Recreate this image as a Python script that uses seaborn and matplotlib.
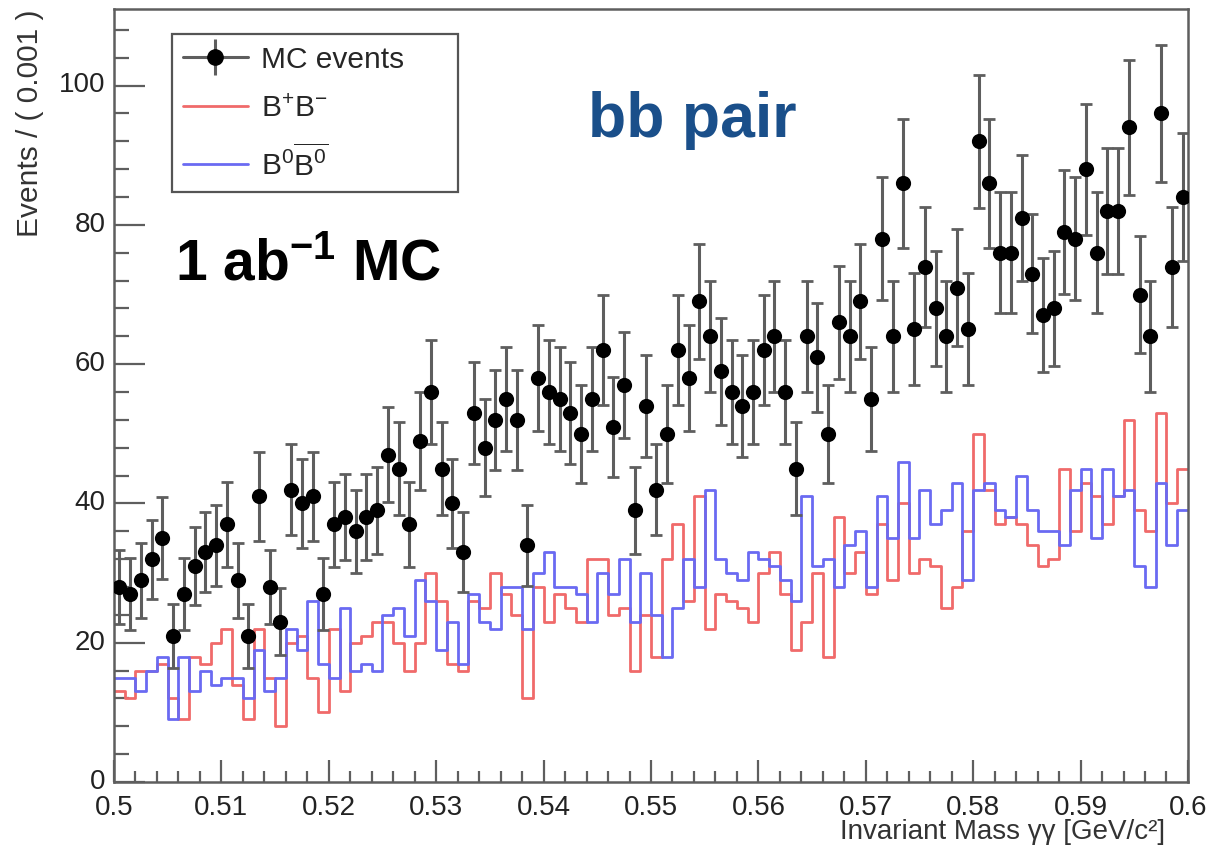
import numpy as np
import pandas as pd
import matplotlib
matplotlib.use("Agg")
import matplotlib.pyplot as plt
from matplotlib.lines import Line2D
from matplotlib.ticker import MultipleLocator, FuncFormatter
from matplotlib.transforms import ScaledTranslation
import seaborn as sns

#%% Data: 100 bins of 0.001 GeV/c^2 between 0.5 and 0.6
edges = np.round(np.arange(0.5, 0.6005, 0.001), 4)
centers = (edges[:-1] + edges[1:]) / 2

mc_events = [28, 27, 29, 32, 35, 21, 27, 31, 33, 34,
             37, 29, 21, 41, 28, 23, 42, 40, 41, 27,
             37, 38, 36, 38, 39, 47, 45, 37, 49, 56,
             45, 40, 33, 53, 48, 52, 55, 52, 34, 58,
             56, 55, 53, 50, 55, 62, 51, 57, 39, 54,
             42, 50, 62, 58, 69, 64, 59, 56, 54, 56,
             62, 64, 56, 45, 64, 61, 50, 66, 64, 69,
             55, 78, 64, 86, 65, 74, 68, 64, 71, 65,
             92, 86, 76, 76, 81, 73, 67, 68, 79, 78,
             88, 76, 82, 82, 94, 70, 64, 96, 74, 84]

bplus_bminus = [13, 12, 16, 16, 17, 12, 9, 18, 17, 20,
                22, 14, 9, 22, 15, 8, 20, 21, 15, 10,
                22, 13, 20, 21, 23, 23, 20, 16, 20, 30,
                26, 17, 16, 26, 25, 30, 27, 24, 12, 28,
                23, 27, 25, 23, 32, 32, 24, 25, 16, 24,
                18, 32, 37, 26, 41, 22, 27, 26, 25, 23,
                30, 33, 27, 19, 23, 30, 18, 38, 30, 33,
                27, 37, 29, 40, 30, 32, 31, 25, 28, 36,
                50, 42, 37, 38, 37, 34, 31, 32, 45, 36,
                43, 41, 37, 41, 52, 39, 36, 53, 40, 45]

b0_b0bar = [15, 15, 13, 16, 18, 9, 18, 13, 16, 14,
            15, 15, 12, 19, 13, 15, 22, 19, 26, 17,
            15, 25, 16, 17, 16, 24, 25, 21, 29, 26,
            19, 23, 17, 27, 23, 22, 28, 28, 22, 30,
            33, 28, 28, 27, 23, 30, 27, 32, 23, 30,
            24, 18, 25, 32, 28, 42, 32, 30, 29, 33,
            32, 31, 29, 26, 41, 31, 32, 28, 34, 36,
            28, 41, 35, 46, 35, 42, 37, 39, 43, 29,
            42, 43, 39, 38, 44, 39, 36, 36, 34, 42,
            45, 35, 45, 41, 42, 31, 28, 43, 34, 39]

df = pd.DataFrame({'mass': centers, 'mc': mc_events,
                   'bpbm': bplus_bminus, 'b0b0': b0_b0bar})

#%% Style
sns.set_theme(style="white")
plt.rcParams['font.family'] = ['Liberation Sans', 'DejaVu Sans']
plt.rcParams['mathtext.fontset'] = 'custom'
plt.rcParams['mathtext.rm'] = 'Liberation Sans'
plt.rcParams['mathtext.it'] = 'Liberation Sans:italic'
plt.rcParams['mathtext.bf'] = 'Liberation Sans:bold'

red = '#f06a6a'
blue = '#6a6af2'
grey = '#5e5e5e'

fig = plt.figure(figsize=(12.09, 8.54), dpi=100)
ax = fig.add_axes([0.0943, 0.0831, 0.8883, 0.9052])

#%% Histograms (step outlines)
sns.histplot(data=df, x='mass', weights='bpbm', bins=list(edges), element='step',
             fill=False, color=red, linewidth=2.0, ax=ax)
sns.histplot(data=df, x='mass', weights='b0b0', bins=list(edges), element='step',
             fill=False, color=blue, linewidth=2.0, ax=ax)

# MC points with sqrt(N) errors
ax.errorbar(df['mass'], df['mc'], yerr=np.sqrt(df['mc']), fmt='none', ecolor=grey,
            elinewidth=2.2, capsize=4, capthick=2.0, zorder=3)
sns.scatterplot(data=df, x='mass', y='mc', color='black', s=120, edgecolor='black',
                linewidth=0, zorder=4, ax=ax)

#%% Axes
ax.set_xlim(0.5, 0.6)
ax.set_ylim(0, 111)
ax.xaxis.set_major_locator(MultipleLocator(0.01))
ax.xaxis.set_minor_locator(MultipleLocator(0.002))
ax.yaxis.set_major_locator(MultipleLocator(20))
ax.yaxis.set_minor_locator(MultipleLocator(4))
ax.xaxis.set_major_formatter(FuncFormatter(lambda v, p: '%g' % round(v, 3)))

ax.tick_params(axis='x', which='major', direction='in', length=16, width=1.6,
               color=grey, labelsize=20, pad=8.5, labelcolor='#222222')
ax.tick_params(axis='x', which='minor', direction='in', length=8, width=1.6, color=grey)
ax.tick_params(axis='y', which='major', direction='in', length=22, width=1.6,
               color=grey, labelsize=20, pad=6, labelcolor='#222222')
ax.tick_params(axis='y', which='minor', direction='in', length=11, width=1.6, color=grey)
ax.tick_params(bottom=True, left=True, which='both')

# nudge y tick labels up a touch so "0" clears "0.5"
lift = ScaledTranslation(0, 3 / 72, fig.dpi_scale_trans)
for t in ax.yaxis.get_major_ticks():
    t.label1.set_transform(t.label1.get_transform() + lift)

for s in ax.spines.values():
    s.set_color(grey)
    s.set_linewidth(1.8)

ax.set_xlabel('Invariant Mass γγ [GeV/c²]', fontsize=20, color='#333333', loc='right')
ax.xaxis.set_label_coords(0.979, -0.046)
ax.set_ylabel('Events / ( 0.001 )', fontsize=21.5, color='#333333', loc='top')
ax.yaxis.set_label_coords(-0.065, 1.0)

#%% Legend
h_mc = (Line2D([], [], color=grey, lw=2.2),
        Line2D([], [], color=grey, marker='|', markersize=26, mew=2.2, ls='none'),
        Line2D([], [], color='black', marker='o', markersize=11, ls='none'))
h_red = Line2D([], [], color=red, lw=2.0)
h_blue = Line2D([], [], color=blue, lw=2.0)
leg = ax.legend([h_mc, h_red, h_blue],
                ['MC events', r'$\mathregular{B^{+}B^{-}}$',
                 r'$\mathregular{B^{0}\overline{B^{0}}}$'],
                loc='upper left', bbox_to_anchor=(0.0540, 0.0, 0.2663, 0.9677),
                mode='expand', borderaxespad=0, fontsize=21.5, frameon=True,
                fancybox=False, framealpha=1, edgecolor='#555555',
                labelspacing=0.7, handlelength=2.15, handletextpad=0.45,
                borderpad=0.38)
leg.get_frame().set_linewidth(1.6)

#%% Annotations
ax.text(0.441, 0.8357, 'bb pair', transform=ax.transAxes, fontsize=45,
        fontweight='bold', color='#1a4f8a', va='baseline', ha='left')
ax.text(0.057, 0.651, r'$\mathbf{1\ ab^{-1}\ MC}$', transform=ax.transAxes,
        fontsize=41, color='black', va='baseline', ha='left')

fig.savefig('out.png', dpi=100)
